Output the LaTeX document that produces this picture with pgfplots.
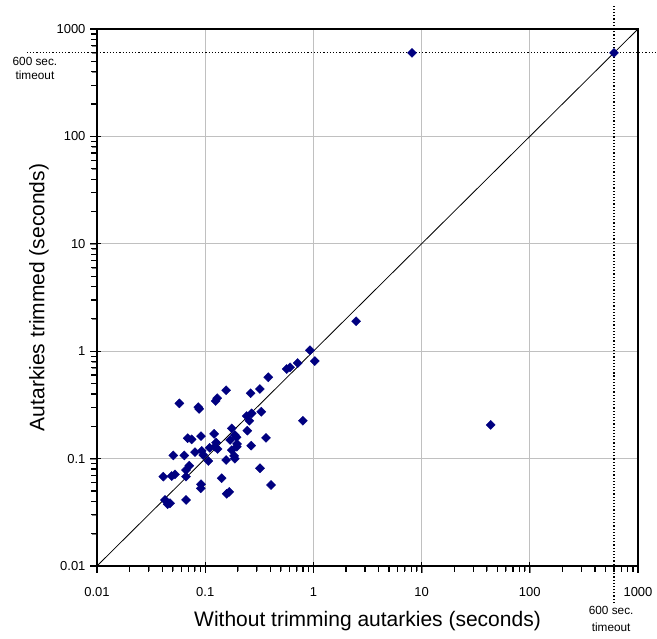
\documentclass[border=0pt]{standalone}
\usepackage{pgfplots}
\pgfplotsset{compat=1.18}
\usepackage{fontspec}
\setmainfont{Liberation Sans}
\definecolor{navy}{RGB}{0,0,128}
\definecolor{gridgray}{RGB}{192,192,192}
\begin{document}
\begin{tikzpicture}
\begin{axis}[
  scale only axis,
  width=541bp, height=537bp,
  xmode=log, ymode=log,
  xmin=0.01, xmax=1000, ymin=0.01, ymax=1000,
  xtick={0.01,0.1,1,10,100,1000},
  xticklabels={0.01,0.1,1,10,100,1000},
  ytick={0.01,0.1,1,10,100,1000},
  yticklabels={0.01,0.1,1,10,100,1000},
  /pgf/number format/assume math mode=true,
  tick label style={font=\fontsize{13bp}{15bp}\selectfont},
  xticklabel style={yshift=-11bp},
  yticklabel style={xshift=-1bp},
  xtick pos=bottom, ytick pos=left,
  xtick align=outside, ytick align=outside,
  major tick length=7bp, minor tick length=5bp,
  grid=major,
  major grid style={gridgray, line width=0.8pt},
  xlabel={Without trimming autarkies (seconds)},
  ylabel={Autarkies trimmed (seconds)},
  label style={font=\fontsize{21bp}{24bp}\selectfont},
  xlabel style={yshift=-8bp},
  ylabel style={yshift=1bp},
  clip=false,
]
\addplot[black, line width=0.8pt] coordinates {(0.01,0.01) (1000,1000)};
\addplot[black, dotted, line width=1.2pt] coordinates {(0.00225,600) (1450,600)};
\addplot[black, dotted, line width=1.2pt] coordinates {(600,0.00452) (600,1670)};
\addplot[only marks, mark=square*, mark size=3.2bp, mark options={rotate=45, fill=navy, draw=navy, line width=0.4pt}] coordinates {
(0.0577,0.327) (0.0863,0.301) (0.088,0.290) (0.129,0.365) (0.125,0.344)
(0.156,0.433) (0.263,0.406) (0.32,0.445) (0.383,0.572) (0.566,0.682)
(0.608,0.708) (0.716,0.776) (0.93,1.02) (1.03,0.81) (2.48,1.90)
(0.80,0.225) (43.5,0.206) (8.15,600) (600,600) (0.33,0.273)
(0.242,0.249) (0.269,0.264) (0.256,0.225) (0.245,0.182) (0.365,0.156)
(0.266,0.132) (0.0689,0.155) (0.075,0.151) (0.0915,0.162) (0.121,0.170)
(0.176,0.191) (0.188,0.166) (0.170,0.149) (0.197,0.137) (0.176,0.120)
(0.185,0.106) (0.188,0.0998) (0.156,0.097) (0.11,0.126) (0.123,0.129)
(0.0805,0.115) (0.093,0.118) (0.096,0.108) (0.107,0.095) (0.0507,0.107)
(0.0641,0.107) (0.0713,0.0859) (0.0665,0.0783) (0.0526,0.0714) (0.049,0.0688)
(0.041,0.0679) (0.0665,0.0679) (0.0915,0.0577) (0.091,0.0529) (0.142,0.0657)
(0.0425,0.0412) (0.0473,0.0384) (0.045,0.0376) (0.0665,0.0412) (0.158,0.047)
(0.167,0.049) (0.321,0.0813) (0.406,0.0568) (0.196,0.129) (0.126,0.141)
(0.195,0.158) (0.13,0.123)
};
\pgfplotsextra{
  \draw[black, line width=1.8pt] (rel axis cs:0,0) rectangle (rel axis cs:1,1);
  \foreach \e in {0.01,0.1,1,10,100} {
    \foreach \m in {2,...,9} {
      \draw[black, line width=1.2pt] (axis cs:{\e*\m},0.01) -- ([yshift=-5.5bp]axis cs:{\e*\m},0.01);
      \draw[black, line width=1.2pt] (axis cs:0.01,{\e*\m}) -- ([xshift=-5.5bp]axis cs:0.01,{\e*\m});
    }
  }
  \foreach \e in {0.01,0.1,1,10,100,1000} {
    \draw[black, line width=1.4pt] ([yshift=4bp]axis cs:\e,0.01) -- ([yshift=-6.5bp]axis cs:\e,0.01);
    \draw[black, line width=1.4pt] ([xshift=4bp]axis cs:0.01,\e) -- ([xshift=-6.5bp]axis cs:0.01,\e);
  }
}
\node[align=center, font=\fontsize{11.8bp}{14.2bp}\selectfont, anchor=north, inner sep=0pt] at (axis cs:0.00267,600) [yshift=-4bp] {600 sec.\\timeout};
\node[align=center, font=\fontsize{11.8bp}{16.7bp}\selectfont, anchor=north, inner sep=0pt] at (axis cs:565,0.01) [yshift=-40.5bp] {600 sec.\\timeout};
\end{axis}
\pgfresetboundingbox
\path ([xshift=-97bp,yshift=-73bp]current axis.south west) rectangle ([xshift=19bp,yshift=29bp]current axis.north east);
\end{tikzpicture}
\end{document}
